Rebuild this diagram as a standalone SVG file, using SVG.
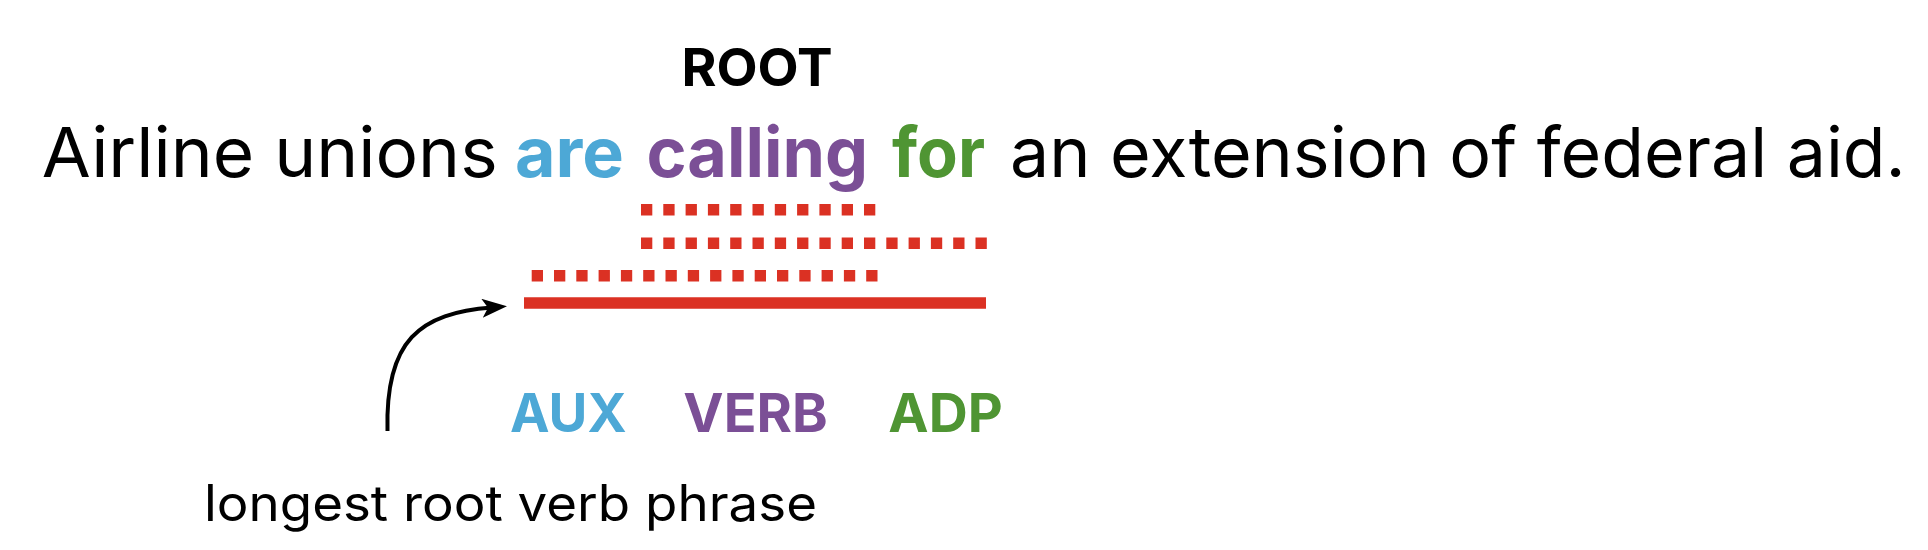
<svg xmlns="http://www.w3.org/2000/svg" width="1928" height="550" viewBox="0 0 1928 550">
  <style>
    .t { font-family: Inter, Lato, "Liberation Sans", sans-serif; }
    .reg { font-weight: 400; fill: #000; }
    .bold { font-weight: 700; }
    .blue { fill: #4DA8D6; }
    .purple { fill: #7B4F96; }
    .green { fill: #4F9533; }
    .dots { stroke: #DB3123; stroke-width: 11.4; stroke-dasharray: 11.3 11; fill: none; }
    .solid { stroke: #DB3123; stroke-width: 11.4; fill: none; }
    .conn { stroke: #000; stroke-width: 4; fill: none; }
  </style>
  <defs>
    <marker id="arrow" markerUnits="userSpaceOnUse" markerWidth="26" markerHeight="20" viewBox="0 0 26 20" refX="10" refY="9.5" orient="auto">
      <path d="M0,0 L25,9.5 L0,19 L6,9.5 Z" fill="#000"/>
    </marker>
  </defs>
  <rect width="1928" height="550" fill="#fff"/>

  <g id="root-label">
    <text class="t bold" x="681.5" y="85.7" font-size="52.8" textLength="151" lengthAdjust="spacingAndGlyphs" fill="#000">ROOT</text>
  </g>

  <g id="sentence">
    <text class="t reg" x="41.7" y="177" font-size="69" textLength="456" lengthAdjust="spacingAndGlyphs">Airline unions</text>
    <text class="t bold blue" x="515" y="177" font-size="69" textLength="109" lengthAdjust="spacingAndGlyphs">are</text>
    <text class="t bold purple" x="646.5" y="177" font-size="69" textLength="221.5" lengthAdjust="spacingAndGlyphs">calling</text>
    <text class="t bold green" x="892" y="177" font-size="69" textLength="93" lengthAdjust="spacingAndGlyphs">for</text>
    <text class="t reg" x="1010" y="177" font-size="69" textLength="895.7" lengthAdjust="spacingAndGlyphs">an extension of federal aid.</text>
  </g>

  <g id="spans">
    <line class="dots" x1="641" y1="209.8" x2="876" y2="209.8"/>
    <line class="dots" x1="641" y1="243.3" x2="987" y2="243.3"/>
    <line class="dots" x1="531.7" y1="275.7" x2="877.5" y2="275.7"/>
    <line class="solid" x1="524" y1="303" x2="986" y2="303"/>
  </g>

  <g id="pos-labels">
    <text class="t bold blue" x="510" y="432" font-size="53.2" textLength="116.7" lengthAdjust="spacingAndGlyphs">AUX</text>
    <text class="t bold purple" x="683.3" y="432" font-size="53.2" textLength="144.4" lengthAdjust="spacingAndGlyphs">VERB</text>
    <text class="t bold green" x="888.3" y="432" font-size="53.2" textLength="114.4" lengthAdjust="spacingAndGlyphs">ADP</text>
  </g>

  <g id="caption">
    <text class="t reg" x="204" y="520.5" font-size="50" textLength="613" lengthAdjust="spacingAndGlyphs">longest root verb phrase</text>
  </g>

  <g id="connectors">
    <path class="conn" d="M387.5,431 C385,340 420,313 492,307.5" marker-end="url(#arrow)"/>
  </g>
</svg>
